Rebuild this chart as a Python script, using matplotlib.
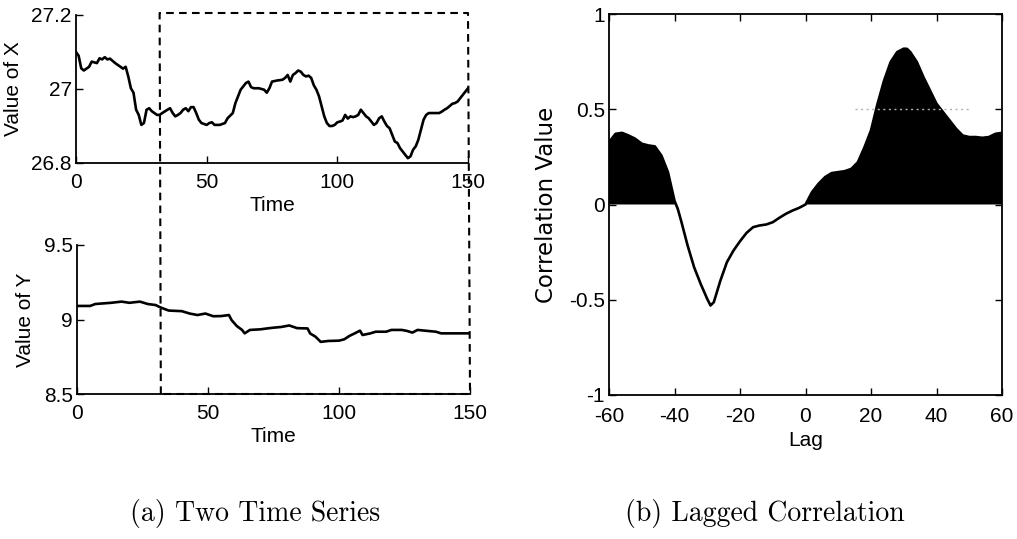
import matplotlib
matplotlib.use("Agg")
import matplotlib.pyplot as plt
import numpy as np
from matplotlib.lines import Line2D

# ---------------- data ----------------
time_x = [0, 1, 2, 3, 5, 6, 8, 9, 10, 11, 12, 13, 15, 17, 18, 19, 20, 21, 22, 23,
          24, 25, 26, 27, 28, 29, 30, 31, 32, 33, 35, 36, 37, 38, 39, 40, 41, 42,
          43, 44, 45, 46, 47, 48, 50, 51, 52, 53, 55, 57, 58, 60, 61, 62, 63, 64,
          65, 66, 67, 68, 70, 72, 73, 74, 75, 77, 79, 80, 81, 82, 83, 84, 85, 86,
          87, 88, 89, 90, 91, 92, 93, 94, 95, 96, 97, 98, 99, 100, 101, 102, 103,
          104, 105, 106, 107, 108, 109, 110, 111, 112, 113, 114, 115, 116, 117,
          118, 119, 120, 121, 122, 123, 124, 125, 126, 127, 128, 129, 130, 131,
          132, 133, 134, 135, 137, 139, 140, 141, 142, 143, 144, 145, 146, 147,
          148, 149, 150]
value_x = [27.10, 27.09, 27.056, 27.05, 27.06, 27.074, 27.07, 27.083, 27.08, 27.086,
           27.08, 27.082, 27.07, 27.06, 27.055, 27.06, 27.034, 27.002, 26.99, 26.944,
           26.93, 26.903, 26.908, 26.944, 26.948, 26.94, 26.935, 26.93, 26.93, 26.935,
           26.944, 26.948, 26.935, 26.926, 26.93, 26.935, 26.944, 26.948, 26.94, 26.951,
           26.951, 26.935, 26.917, 26.908, 26.903, 26.908, 26.91, 26.903, 26.903, 26.908,
           26.921, 26.935, 26.962, 26.98, 26.998, 27.007, 27.016, 27.02, 27.005, 27.002,
           27.002, 26.998, 26.99, 27.002, 27.02, 27.023, 27.025, 27.03, 27.038, 27.02,
           27.038, 27.043, 27.05, 27.047, 27.038, 27.034, 27.036, 27.03, 27.01, 26.998,
           26.98, 26.953, 26.926, 26.908, 26.90, 26.90, 26.903, 26.91, 26.912, 26.915,
           26.93, 26.92, 26.926, 26.924, 26.926, 26.93, 26.944, 26.935, 26.926, 26.921,
           26.912, 26.903, 26.908, 26.921, 26.926, 26.912, 26.90, 26.894, 26.876, 26.858,
           26.854, 26.84, 26.831, 26.822, 26.813, 26.818, 26.836, 26.845, 26.863, 26.89,
           26.917, 26.93, 26.935, 26.935, 26.935, 26.939, 26.944, 26.948, 26.954, 26.96,
           26.962, 26.966, 26.975, 26.984, 26.993, 27.002]

time_y = [0, 5, 7, 10, 13, 17, 20, 24, 27, 30, 32, 35, 40, 43, 46, 49, 52, 55, 58, 59,
          61, 63, 64, 66, 70, 73, 75, 78, 81, 84, 88, 89, 91, 93, 96, 100, 102, 104,
          106, 108, 109, 112, 114, 118, 120, 124, 126, 128, 130, 134, 137, 139, 143, 150]
value_y = [9.091, 9.091, 9.104, 9.108, 9.112, 9.12, 9.112, 9.12, 9.104, 9.097, 9.08,
           9.06, 9.056, 9.04, 9.03, 9.04, 9.022, 9.023, 9.03, 8.996, 8.956, 8.93, 8.907,
           8.93, 8.934, 8.941, 8.945, 8.95, 8.96, 8.942, 8.94, 8.906, 8.885, 8.85, 8.856,
           8.858, 8.867, 8.89, 8.907, 8.925, 8.896, 8.907, 8.918, 8.918, 8.93, 8.93,
           8.923, 8.912, 8.93, 8.923, 8.918, 8.907, 8.907, 8.907]

lag = [-60, -58, -56, -54, -52, -50, -48, -46, -44, -42, -40, -39, -38, -36, -34, -32,
       -30, -29, -28, -26, -24, -22, -20, -18, -16, -14, -12, -10, -8, -6, -4, -2, 0,
       2, 4, 6, 8, 10, 12, 14, 16, 18, 20, 22, 24, 26, 28, 30, 31, 32, 34, 36, 38, 40,
       42, 44, 46, 48, 50, 52, 54, 56, 58, 60]
corr = [0.327, 0.371, 0.376, 0.362, 0.345, 0.319, 0.31, 0.305, 0.257, 0.17, 0.02,
        -0.023, -0.084, -0.215, -0.33, -0.417, -0.496, -0.53, -0.513, -0.40, -0.303,
        -0.242, -0.193, -0.149, -0.119, -0.11, -0.105, -0.093, -0.07, -0.049, -0.032,
        -0.018, 0.0, 0.065, 0.109, 0.144, 0.165, 0.17, 0.175, 0.187, 0.222, 0.30,
        0.389, 0.529, 0.651, 0.748, 0.80, 0.818, 0.817, 0.80, 0.748, 0.669, 0.599,
        0.529, 0.485, 0.441, 0.397, 0.362, 0.354, 0.354, 0.35, 0.354, 0.371, 0.376]

window = [32, 150]          # highlighted window in Time
faint_level = 0.5           # faint dotted scan mark in the correlation plot
faint_span = [15, 50]

x_ticks = [0, 50, 100, 150]
x_ylim = [26.8, 27.2]
x_yticks = [26.8, 27.0, 27.2]
x_yticklabels = ["26.8", "27", "27.2"]
y_ylim = [8.5, 9.5]
y_yticks = [8.5, 9.0, 9.5]
y_yticklabels = ["8.5", "9", "9.5"]
lag_ticks = [-60, -40, -20, 0, 20, 40, 60]
lag_ticklabels = ["-60", "-40", "-20", "0", "20", "40", "60"]
corr_ticks = [-1, -0.5, 0, 0.5, 1]
corr_ticklabels = ["-1", "-0.5", "0", "0.5", "1"]

# ---------------- style ----------------
plt.rcParams["lines.scale_dashes"] = False
sans = ["Liberation Sans", "DejaVu Sans"]
tick_fs = 15
W, H = 1017, 539
fig = plt.figure(figsize=(W / 100, H / 100), dpi=100)
fig.patch.set_facecolor("white")


def px_axes(x0, y0, x1, y1):
    return fig.add_axes([x0 / W, 1 - y1 / H, (x1 - x0) / W, (y1 - y0) / H])


def style_ticks(ax, xt, xtl, yt, ytl, box, xpad):
    ax.set_xticks(xt)
    ax.set_xticklabels(xtl, fontfamily=sans, fontsize=tick_fs)
    ax.set_yticks(yt)
    ax.set_yticklabels(ytl, fontfamily=sans, fontsize=tick_fs)
    ax.tick_params(direction="in", length=5, width=1.0, color="black")
    ax.tick_params(axis="x", pad=xpad)
    ax.tick_params(axis="y", pad=3)
    for s in ax.spines.values():
        s.set_linewidth(1.3)
        s.set_color("black")
    if box:
        ax.tick_params(top=True, right=True)
    else:
        ax.spines["top"].set_visible(False)
        ax.spines["right"].set_visible(False)


# top-left: X series
ax1 = px_axes(76, 15, 468, 163)
ax1.plot(time_x, value_x, color="black", lw=1.9)
ax1.set_xlim(0, 150)
ax1.set_ylim(*x_ylim)
style_ticks(ax1, x_ticks, [str(t) for t in x_ticks], x_yticks, x_yticklabels, False, 7)
ax1.set_xlabel("Time", fontfamily=sans, fontsize=15, labelpad=3)
ax1.set_ylabel("Value of X", fontfamily=sans, fontsize=15, labelpad=6)

# bottom-left: Y series
ax2 = px_axes(77, 245, 470, 394)
ax2.plot(time_y, value_y, color="black", lw=1.9)
ax2.set_xlim(0, 150)
ax2.set_ylim(*y_ylim)
style_ticks(ax2, x_ticks, [str(t) for t in x_ticks], y_yticks, y_yticklabels, False, 7)
ax2.set_xlabel("Time", fontfamily=sans, fontsize=15, labelpad=3)
ax2.set_ylabel("Value of Y", fontfamily=sans, fontsize=15, labelpad=6)

# right: lagged correlation
ax3 = px_axes(609, 14, 1002, 395)
lag_a = np.array(lag, dtype=float)
corr_a = np.array(corr, dtype=float)
ax3.fill_between(lag_a, 0, corr_a, where=corr_a >= 0, interpolate=True,
                 color="black", linewidth=0)
ax3.plot(lag_a, corr_a, color="black", lw=1.9)
ax3.plot(faint_span, [faint_level, faint_level], color="#b0b0b0", lw=1.0,
         linestyle=(0, (1.5, 2.5)))
ax3.set_xlim(-60, 60)
ax3.set_ylim(-1, 1)
style_ticks(ax3, lag_ticks, lag_ticklabels, corr_ticks, corr_ticklabels, True, 9)
ax3.set_xlabel("Lag", fontfamily=sans, fontsize=15, labelpad=3)
ax3.set_ylabel("Correlation Value", fontfamily=["DejaVu Sans"], fontsize=16.5, labelpad=8)

# dashed window rectangle spanning both left panels
fig.canvas.draw()
inv = fig.transFigure.inverted()
xl_top = ax1.transData.transform((window[0], x_ylim[1]))
xr_top = ax1.transData.transform((window[1], x_ylim[1]))
xl_bot = ax2.transData.transform((window[0], y_ylim[0]))
xr_bot = ax2.transData.transform((window[1], y_ylim[0]))
top_y = xl_top[1] + 2
pts_disp = [(xl_bot[0], xl_bot[1]), (xl_top[0], top_y), (xr_top[0], top_y),
            (xr_bot[0], xr_bot[1]), (xl_bot[0], xl_bot[1])]
pts_fig = inv.transform(pts_disp)
fig.add_artist(Line2D(pts_fig[:, 0], pts_fig[:, 1], transform=fig.transFigure,
                      color="black", lw=1.5, linestyle=(0, (5.5, 3.8)),
                      clip_on=False))

# captions
fig.text(255 / W, 1 - 514 / H, "(a) Two Time Series", fontfamily="cmr10",
         fontsize=20, ha="center", va="center")
fig.text(765 / W, 1 - 514 / H, "(b) Lagged Correlation", fontfamily="cmr10",
         fontsize=20, ha="center", va="center")

fig.savefig("out.png", dpi=100, facecolor="white")
